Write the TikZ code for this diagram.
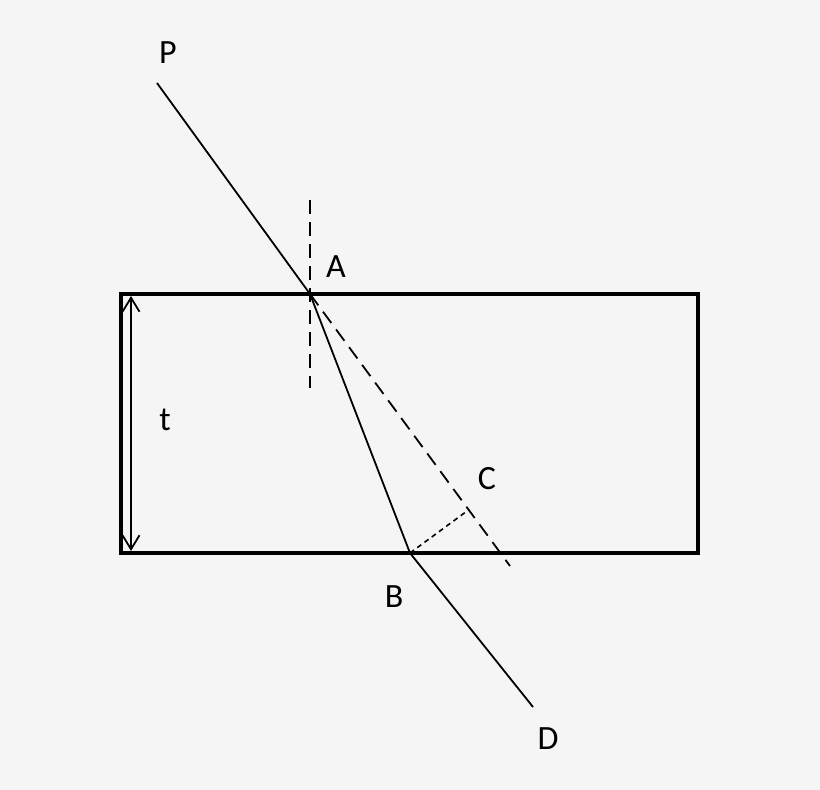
\documentclass[tikz,border=0pt]{standalone}
\usepackage{fontspec}
\setmainfont{Carlito}
\usetikzlibrary{positioning}
\usetikzlibrary{calc}
\usetikzlibrary{arrows.meta}
\definecolor{paper}{HTML}{F5F5F5}

\tikzset{
  ray/.style={line width=1.8pt},
  slab/.style={line width=4pt},
  guide/.style={line width=1.8pt, dash pattern=on 14pt off 8pt},
  drop/.style={line width=1.6pt, dash pattern=on 5pt off 4pt},
  lbl/.style={font=\fontsize{34}{40}\selectfont, inner sep=0pt}
}

\begin{document}
\begin{tikzpicture}[x=1pt,y=-1pt]
\fill[paper] (0,0) rectangle (820,790);
\useasboundingbox (0,0) rectangle (820,790);

% glass block and thickness
\draw[slab] (121,294) rectangle (698,553);
\coordinate (top) at (131,296);
\coordinate (bot) at (131,551);
\draw[ray, {Straight Barb[length=14pt,width=17pt]}-{Straight Barb[length=14pt,width=17pt]}] (top) -- (bot);
\node (t) at (165,420) [lbl] {t};

% points
\coordinate (P) at (157,83);
\coordinate (A) at (310,294);
\coordinate (B) at (410,553);
\coordinate (D) at (533,707);
\coordinate (E) at (510,566);
\coordinate (C) at ($(A)!(B)!(E)$);
\coordinate (N1) at (310,200);
\coordinate (N2) at (310,388);

% rays
\draw[ray] (P) -- (A) -- (B) -- (D);
\draw[guide] (A) -- (E);
\draw[guide] (N1) -- (N2);
\draw[drop] (B) -- (C);

\node at (168,53) [lbl] (lP) {P};
\node at (336,267) [lbl] (lA) {A};
\node at (487,479) [lbl] (lC) {C};
\node at (394,597) [lbl] (lB) {B};
\node at (548,739) [lbl] (lD) {D};
\end{tikzpicture}
\end{document}
